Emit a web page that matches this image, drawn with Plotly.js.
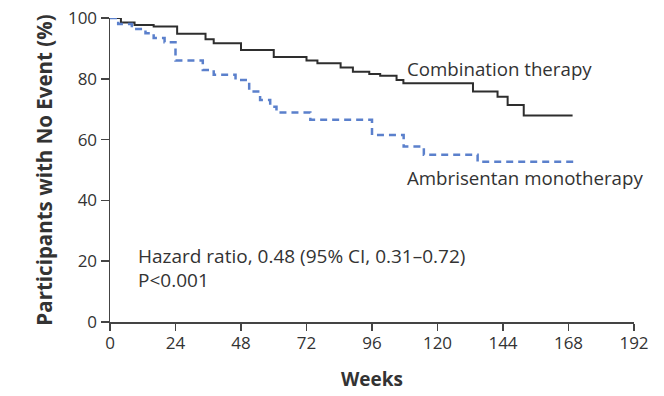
<!DOCTYPE html>
<html>
<head>
<meta charset="utf-8">
<script src="https://cdn.plot.ly/plotly-3.0.1.min.js"></script>
<style>html,body{margin:0;padding:0;background:#fff;}#chart{width:664px;height:396px;}</style>
</head>
<body>
<div id="chart"></div>
<script>
const comboWeeks = [0, 4, 9, 16, 24.6, 35, 38, 48, 60, 72, 76, 84.5, 89, 95, 99, 105, 107.5, 133, 142, 145.7, 151.6, 169.5];
const comboValues = [100, 98.5, 97.7, 97.2, 94.8, 93, 91.7, 89.5, 87.2, 86, 85.1, 83.7, 82.3, 81.6, 81, 79.6, 78.5, 75.8, 74.1, 71.4, 67.9, 67.9];
const monoWeeks = [0, 3, 8, 13, 16, 20, 24, 34, 38, 46, 51, 55, 58.7, 61, 73.4, 96, 107.6, 115, 134.7, 170];
const monoValues = [100, 98, 96.4, 95, 93.4, 92, 86, 82.9, 81.3, 79.6, 75.8, 73, 70.8, 68.9, 66.5, 61.5, 57.7, 55, 52.7, 52.7];
const xTicks = [0, 24, 48, 72, 96, 120, 144, 168, 192];
const yTicks = [0, 20, 40, 60, 80, 100];
const labelCombo = "Combination therapy";
const labelMono = "Ambrisentan monotherapy";
const hrText = "Hazard ratio, 0.48 (95% CI, 0.31–0.72)";
const pText = "P<0.001";

const FONT = "'Open Sans', 'Noto Sans', sans-serif";
const TXT = '#333333';
const traces = [
  {x: comboWeeks, y: comboValues, type: 'scatter', mode: 'lines', line: {shape: 'hv', color: '#2e2e2e', width: 2}, cliponaxis: false, hoverinfo: 'skip'},
  {x: monoWeeks, y: monoValues, type: 'scatter', mode: 'lines', line: {shape: 'hv', color: '#5b80cc', width: 2.5, dash: '7px,5px'}, cliponaxis: false, hoverinfo: 'skip'}
];
const layout = {
  width: 664, height: 396,
  margin: {l: 110, r: 30, t: 18, b: 74},
  paper_bgcolor: '#ffffff', plot_bgcolor: '#ffffff',
  showlegend: false,
  font: {family: FONT, color: TXT, size: 16},
  xaxis: {
    range: [0, 192], tickvals: xTicks, ticktext: xTicks.map(String),
    showgrid: false, zeroline: false, showline: true, linecolor: '#444444', linewidth: 1.5,
    ticks: 'outside', ticklen: 7, tickwidth: 1.5, tickcolor: '#444444',
    ticklabelstandoff: -2,
    tickfont: {family: FONT, size: 17, color: TXT},
    title: {text: '<b>Weeks</b>', font: {family: FONT, size: 19, color: TXT}, standoff: 20}
  },
  yaxis: {
    range: [0, 100], tickvals: yTicks, ticktext: yTicks.map(String),
    showgrid: false, zeroline: false, showline: true, linecolor: '#444444', linewidth: 1.5,
    ticks: 'outside', ticklen: 8, tickwidth: 1.5, tickcolor: '#444444',
    tickfont: {family: FONT, size: 17, color: TXT},
    title: {text: '<b>Participants with No Event (%)</b>', font: {family: FONT, size: 20.5, color: TXT}, standoff: 10}
  },
  annotations: [
    {x: 108, y: 83.5, xref: 'x', yref: 'y', text: labelCombo, showarrow: false, xanchor: 'left', yanchor: 'middle', font: {family: FONT, size: 18.7, color: TXT}},
    {x: 108, y: 47.4, xref: 'x', yref: 'y', text: labelMono, showarrow: false, xanchor: 'left', yanchor: 'middle', font: {family: FONT, size: 18.7, color: TXT}},
    {x: 9.5, y: 21.7, xref: 'x', yref: 'y', text: hrText, showarrow: false, xanchor: 'left', yanchor: 'middle', font: {family: FONT, size: 19, color: TXT}},
    {x: 9.5, y: 13.8, xref: 'x', yref: 'y', text: pText, showarrow: false, xanchor: 'left', yanchor: 'middle', font: {family: FONT, size: 19, color: TXT}}
  ]
};
Plotly.newPlot('chart', traces, layout, {staticPlot: true, displayModeBar: false});
</script>
</body>
</html>
